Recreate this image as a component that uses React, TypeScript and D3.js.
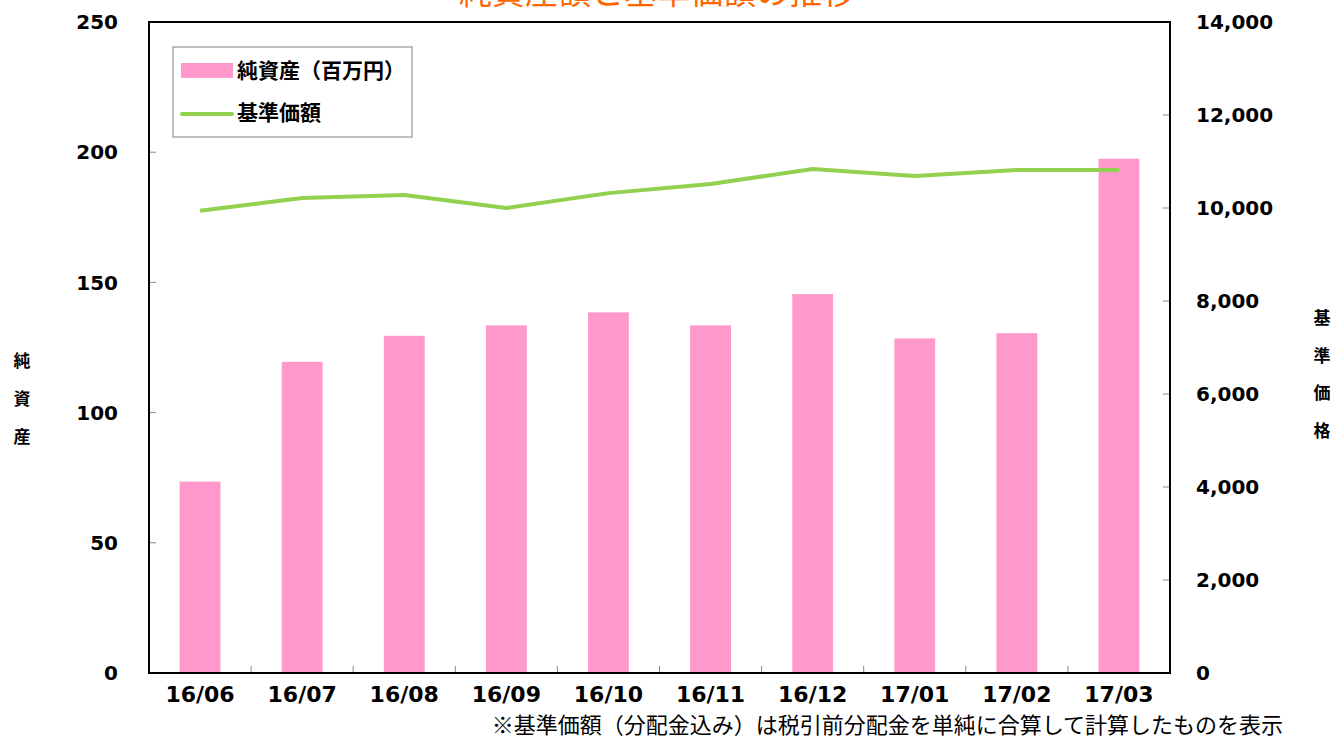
import React from 'react'
import * as d3 from 'd3'

// 月次データ
const months = ['16/06', '16/07', '16/08', '16/09', '16/10', '16/11', '16/12', '17/01', '17/02', '17/03']
const netAssets = [73.5, 119.5, 129.5, 133.5, 138.5, 133.5, 145.5, 128.5, 130.5, 197.5] // 百万円
const navValues = [9940, 10215, 10280, 10000, 10320, 10515, 10840, 10690, 10815, 10815]
const leftTicks = [0, 50, 100, 150, 200, 250]
const rightTicks = [0, 2000, 4000, 6000, 8000, 10000, 12000, 14000]

const W = 1336
const H = 739
const plot = { left: 149, right: 1170, top: 22, bottom: 673 }

const TICK_FONT = '"DejaVu Sans", Verdana, sans-serif'
const JP_FONT = '"Noto Sans CJK JP", sans-serif'

const App: React.FC = () => {
  const x = d3.scaleBand<string>().domain(months).range([plot.left, plot.right]).paddingInner(0.6).paddingOuter(0.3)
  const xBand = d3.scaleBand<string>().domain(months).range([plot.left, plot.right])
  const yL = d3.scaleLinear().domain([0, 250]).range([plot.bottom, plot.top])
  const yR = d3.scaleLinear().domain([0, 14000]).range([plot.bottom, plot.top])

  const line = d3.line<number>()
    .x((_, i) => (xBand(months[i]) ?? 0) + xBand.bandwidth() / 2)
    .y(d => yR(d))

  const fmt = d3.format(',')

  return (
    <div style={{ position: 'fixed', left: 0, top: 0 }}>
      <svg width={W} height={H} style={{ display: 'block', background: '#fff' }}>
        {/* タイトル (上端で切れている) */}
        <text x={657} y={4} textAnchor="middle" fontFamily={JP_FONT} fontSize={33} fill="#FF6600">
          純資産額と基準価額の推移
        </text>

        {/* 棒 */}
        {netAssets.map((v, i) => (
          <rect key={months[i]}
            x={x(months[i])} y={yL(v)} width={x.bandwidth()} height={plot.bottom - yL(v)}
            fill="#FF99CC" />
        ))}

        {/* 折れ線 */}
        <path d={line(navValues) ?? ''} fill="none" stroke="#92D050" strokeWidth={4} strokeLinejoin="round" />

        {/* 目盛り線 */}
        {leftTicks.map(t => (
          <line key={'lt' + t} x1={plot.left} x2={plot.left + 7} y1={yL(t)} y2={yL(t)} stroke="#888" strokeWidth={1} />
        ))}
        {rightTicks.map(t => (
          <line key={'rt' + t} x1={plot.right - 7} x2={plot.right} y1={yR(t)} y2={yR(t)} stroke="#888" strokeWidth={1} />
        ))}
        {months.slice(1).map(m => (
          <line key={'xt' + m} x1={xBand(m)} x2={xBand(m)} y1={plot.bottom} y2={plot.bottom - 7} stroke="#888" strokeWidth={1} />
        ))}

        {/* 枠 */}
        <rect x={plot.left} y={plot.top} width={plot.right - plot.left} height={plot.bottom - plot.top}
          fill="none" stroke="#000" strokeWidth={2} />

        {/* 左軸ラベル */}
        {leftTicks.map(t => (
          <text key={'ll' + t} x={118} y={yL(t)} dy="0.36em" textAnchor="end"
            fontFamily={TICK_FONT} fontWeight="bold" fontSize={20} fill="#000">{t}</text>
        ))}
        {/* 右軸ラベル */}
        {rightTicks.map(t => (
          <text key={'rl' + t} x={1196} y={yR(t)} dy="0.36em" textAnchor="start"
            fontFamily={TICK_FONT} fontWeight="bold" fontSize={20} fill="#000">{fmt(t)}</text>
        ))}
        {/* X軸ラベル */}
        {months.map(m => (
          <text key={'xl' + m} x={(xBand(m) ?? 0) + xBand.bandwidth() / 2} y={694} dy="0.36em" textAnchor="middle"
            fontFamily={TICK_FONT} fontWeight="bold" fontSize={22} fill="#000">{m}</text>
        ))}

        {/* 軸タイトル (縦書き) */}
        {['純', '資', '産'].map((c, i) => (
          <text key={'lc' + i} x={22} y={361 + i * 38} dy="0.36em" textAnchor="middle"
            fontFamily={JP_FONT} fontWeight="bold" fontSize={17} fill="#000">{c}</text>
        ))}
        {['基', '準', '価', '格'].map((c, i) => (
          <text key={'rc' + i} x={1322} y={318 + i * 37.5} dy="0.36em" textAnchor="middle"
            fontFamily={JP_FONT} fontWeight="bold" fontSize={17} fill="#000">{c}</text>
        ))}

        {/* 凡例 */}
        <rect x={173} y={47} width={239} height={90} fill="#fff" stroke="#808080" strokeWidth={1} />
        <rect x={181} y={63} width={52} height={15} fill="#FF99CC" />
        <text x={237} y={70} dy="0.36em" fontFamily={JP_FONT} fontWeight="bold" fontSize={21} fill="#000">純資産（百万円）</text>
        <line x1={182} x2={232} y1={114} y2={114} stroke="#92D050" strokeWidth={4} strokeLinecap="round" />
        <text x={237} y={112} dy="0.36em" fontFamily={JP_FONT} fontWeight="bold" fontSize={21} fill="#000">基準価額</text>

        {/* 注記 */}
        <text x={1283} y={725} dy="0.36em" textAnchor="end" fontFamily={JP_FONT} fontSize={22} fill="#000">
          ※基準価額（分配金込み）は税引前分配金を単純に合算して計算したものを表示
        </text>
      </svg>
    </div>
  )
}

export default App
